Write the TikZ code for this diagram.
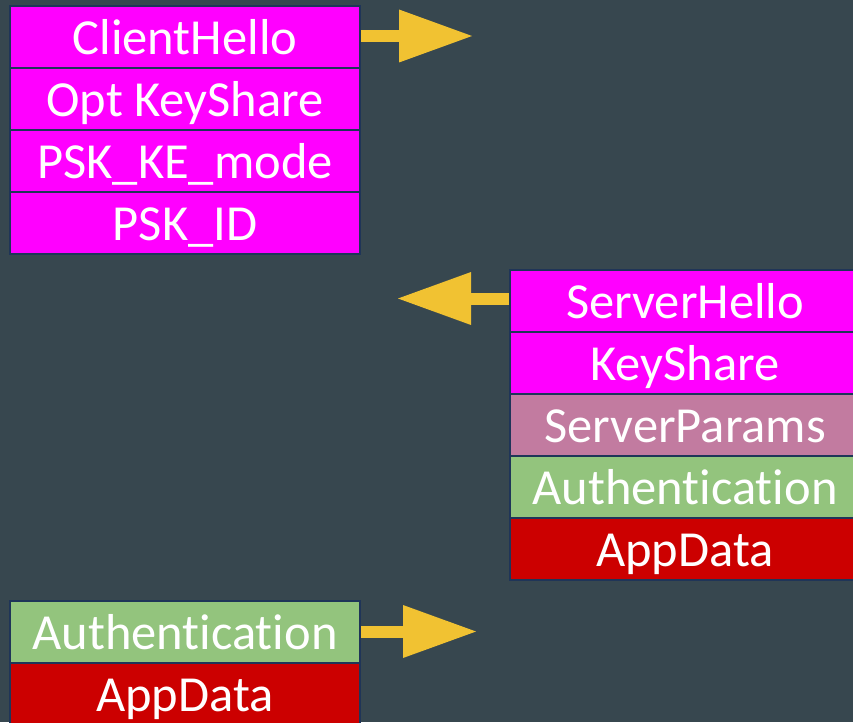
\documentclass[tikz,border=0pt]{standalone}
\usepackage{fontspec}
\setmainfont[Ligatures={NoCommon}]{Carlito}
\usetikzlibrary{arrows.meta}
\definecolor{bg}{HTML}{37474F}
\definecolor{mag}{HTML}{FF00FF}
\definecolor{sparams}{HTML}{C27BA0}
\definecolor{authc}{HTML}{93C47D}
\definecolor{appc}{HTML}{CC0000}
\definecolor{arrowc}{HTML}{F1C232}
\definecolor{edgec}{HTML}{1F3558}
\tikzset{
  msg/.style={draw=edgec, line width=2pt, minimum width=350pt, minimum height=62pt,
    inner sep=0pt, text height=40pt, text depth=5pt, text=white,
    font=\fontsize{50.5}{50.5}\selectfont},
  fatarrow/.style={draw=arrowc, line width=12pt,
    -{Triangle[length=73pt,width=53pt,line width=0pt]}},
}
\begin{document}
\begin{tikzpicture}[x=1pt,y=-1pt]
\fill[bg] (0,0) rectangle (853,722);
\useasboundingbox (0,0) rectangle (853,722);
\clip (0,0) rectangle (853,722);
% client first flight
\node[msg, fill=mag] (ch) at (185,37) {ClientHello};
\node[msg, fill=mag] (oks) at (185,99) {Opt KeyShare};
\node[msg, fill=mag] (pskm) at (185,161) {PSK\_KE\_mode};
\node[msg, fill=mag] (pskid) at (185,223) {PSK\_ID};
% server flight
\node[msg, fill=mag] (sh) at (685,300.5) {ServerHello};
\node[msg, fill=mag] (ks) at (685,362.5) {KeyShare};
\node[msg, fill=sparams] (sp) at (685,424.5) {ServerParams};
\node[msg, fill=authc] (sauth) at (685,486.5) {Authentication};
\node[msg, fill=appc] (sapp) at (685,548.5) {AppData};
% client second flight
\node[msg, fill=authc] (cauth) at (185,631.5) {Authentication};
\node[msg, fill=appc] (capp) at (185,693.5) {AppData};
% arrows
\coordinate (t1) at (472,36);
\coordinate (t2) at (398,298.5);
\coordinate (t3) at (476,631.5);
\draw[fatarrow] (ch.east |- t1) -- (t1);
\draw[fatarrow] (sh.west |- t2) -- (t2);
\draw[fatarrow] (cauth.east |- t3) -- (t3);
\end{tikzpicture}
\end{document}
